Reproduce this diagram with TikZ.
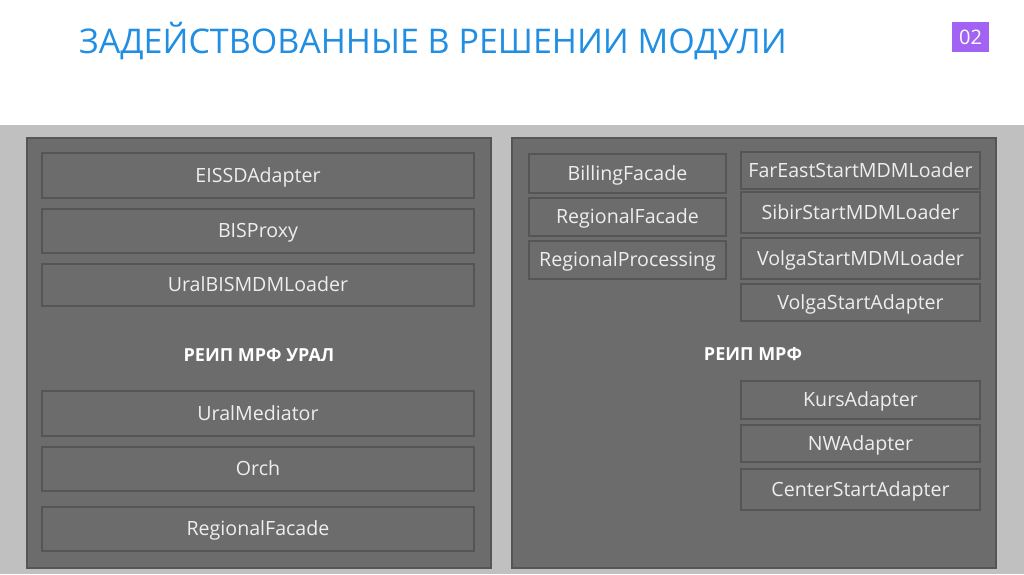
\documentclass[tikz,border=0pt]{standalone}
\usepackage{fontspec}
\setmainfont{Open Sans}
\usepackage{tikz}

\definecolor{titleblue}{RGB}{32,142,226}
\definecolor{numviolet}{RGB}{162,98,244}
\definecolor{bandgray}{RGB}{192,192,192}
\definecolor{panelgray}{RGB}{108,108,108}
\definecolor{edgegray}{RGB}{85,85,85}
\definecolor{textwhite}{RGB}{238,238,238}

\tikzset{
	panel/.style={draw=edgegray,line width=1.5pt,fill=panelgray},
	module/.style={draw=edgegray,line width=2pt,fill=panelgray,text=textwhite,
		font=\fontsize{19.6}{22}\selectfont,inner sep=0pt,text depth=1pt},
	wide/.style={module,minimum width=432pt},
	narrow/.style={module,minimum width=197pt},
	broad/.style={module,minimum width=239pt},
	caption/.style={text=white,font=\fontsize{18}{21}\selectfont\bfseries}
}

\begin{document}
\begin{tikzpicture}[x=1pt,y=-1pt]
	\useasboundingbox (0,0) rectangle (1024,574);
	\fill[white] (0,0) rectangle (1024,574);

	\node[text=titleblue,font=\fontsize{34}{40}\selectfont,anchor=base west,inner sep=0pt] (title) at (79,53) {ЗАДЕЙСТВОВАННЫЕ В РЕШЕНИИ МОДУЛИ};
	\node[fill=numviolet,text=white,font=\fontsize{20}{24}\selectfont,minimum width=37pt,minimum height=30pt,inner sep=0pt] (num) at (970.5,37) {02};

	\fill[bandgray] (0,125) rectangle (1024,574);
	\draw[panel] (27,138) rectangle (491,568);
	\draw[panel] (512,138) rectangle (996,568);

	\node[wide,minimum height=45pt] (eissd) at (258,175.5) {EISSDAdapter};
	\node[wide,minimum height=44pt] (bisproxy) at (258,231) {BISProxy};
	\node[wide,minimum height=42pt] (uralbis) at (258,284.5) {UralBISMDMLoader};
	\node[caption] (ural) at (259,355) {РЕИП МРФ УРАЛ};
	\node[wide,minimum height=45pt] (mediator) at (258,413.5) {UralMediator};
	\node[wide,minimum height=44pt] (orch) at (258,469) {Orch};
	\node[wide,minimum height=44pt] (uralfacade) at (258,529) {RegionalFacade};

	\node[narrow,minimum height=39pt] (billing) at (627.5,173.5) {BillingFacade};
	\node[narrow,minimum height=38pt] (regfacade) at (627.5,217) {RegionalFacade};
	\node[narrow,minimum height=38pt] (regproc) at (627.5,260) {RegionalProcessing};

	\node[broad,minimum height=37pt] (fareast) at (860.5,170.5) {FarEastStartMDMLoader};
	\node[broad,minimum height=41pt] (sibir) at (860.5,212.5) {SibirStartMDMLoader};
	\node[broad,minimum height=41pt] (volgamdm) at (860.5,258.5) {VolgaStartMDMLoader};
	\node[broad,minimum height=37pt] (volgaadapter) at (860.5,302.5) {VolgaStartAdapter};
	\node[caption] (mrf) at (753,354) {РЕИП МРФ};
	\node[broad,minimum height=38pt] (kurs) at (860.5,400) {KursAdapter};
	\node[broad,minimum height=37pt] (nw) at (860.5,443.5) {NWAdapter};
	\node[broad,minimum height=41pt] (center) at (860.5,489.5) {CenterStartAdapter};
\end{tikzpicture}
\end{document}
